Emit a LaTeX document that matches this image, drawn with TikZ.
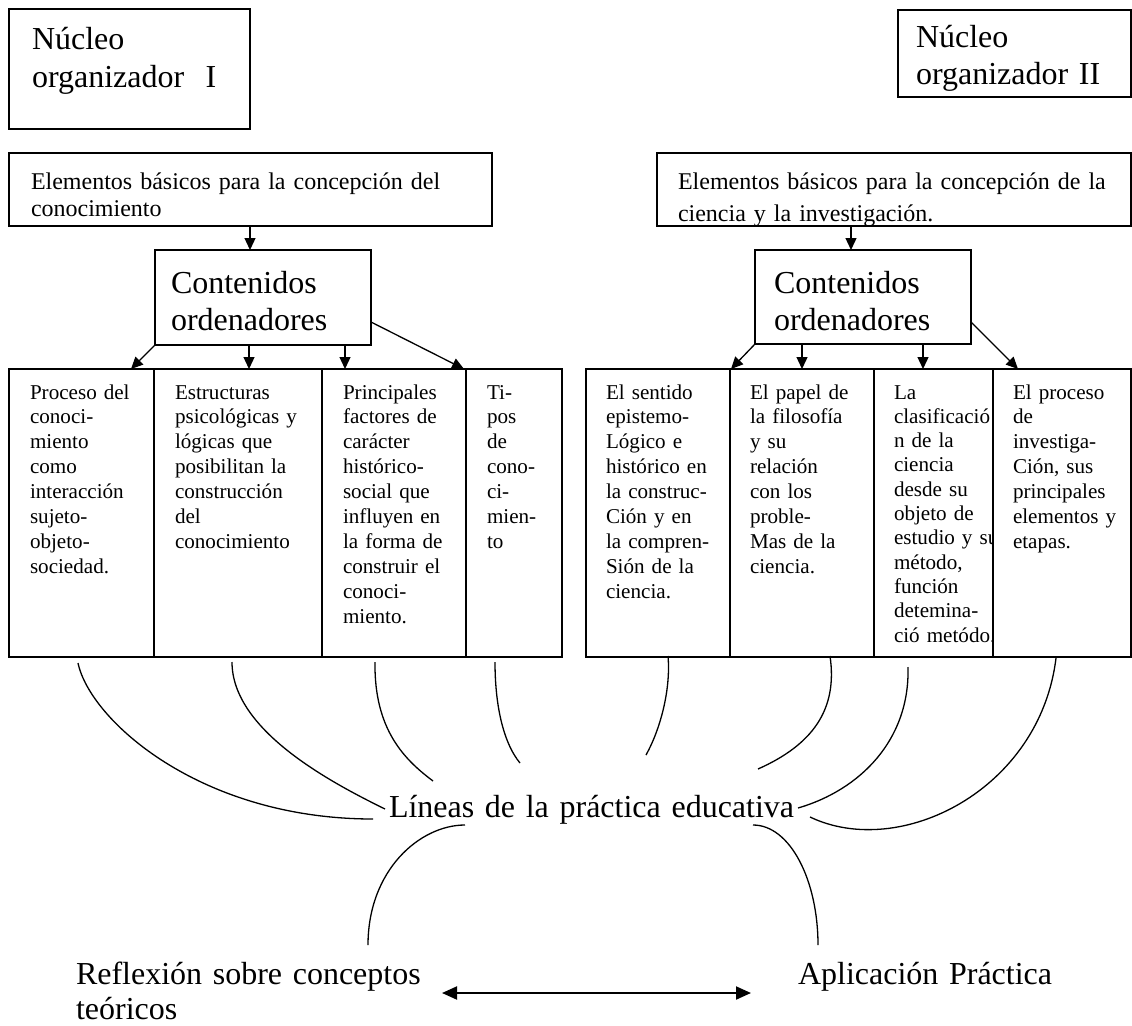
\documentclass[tikz,border=0pt]{standalone}
\usepackage{fontspec}
\setmainfont{Liberation Serif}
\usetikzlibrary{arrows.meta}
\newcommand{\fs}[2]{\fontsize{#1}{#2}\selectfont}
\begin{document}
\begin{tikzpicture}[x=1pt,y=-1pt,
 box/.style={draw, line width=1.6pt, fill=white, inner sep=0pt, outer sep=0pt, anchor=north west},
 txt/.style={anchor=base west, inner sep=0pt, outer sep=0pt, text width=700pt, align=left},
 big/.style={font=\fs{32}{37}},
 mid/.style={font=\fs{24}{27}},
 small/.style={font=\fs{21.1}{24.9}},
 arr/.style={line width=1.3pt, -{Triangle[length=12pt,width=11pt]}},
 crv/.style={line width=1.3pt},
 dbl/.style={line width=2pt, {Triangle[length=15pt,width=13pt]}-{Triangle[length=15pt,width=13pt]}}]
\useasboundingbox[fill=white] (0,0) rectangle (1132,1025);

% Nucleo boxes
\node[box, minimum width=241pt, minimum height=120pt] (n1) at (9,9) {};
\node[txt, big] (n1t) at (32,50) {Núcleo\\organizador\ \ I};
\node[box, minimum width=233pt, minimum height=87pt] (n2) at (898,10) {};
\node[txt, big] (n2t) at (916,48) {Núcleo\\organizador II};

% Elementos boxes
\node[box, minimum width=483pt, minimum height=73pt] (e1) at (9,153) {};
\node[txt, mid] (e1t) at (31,189) {Elementos básicos para la concepción del\\conocimiento};
\node[box, minimum width=474pt, minimum height=73pt] (e2) at (657,153) {};
\begin{scope}
\clip (658,154) rectangle (1130,225);
\node[txt, font=\fs{24}{32}] (e2t) at (678,189) {Elementos básicos para la concepción de la\\ciencia y la investigación.};
\end{scope}

% Contenidos boxes
\node[box, minimum width=216pt, minimum height=95pt] (c1) at (155,250) {};
\node[txt, big] (c1t) at (171,293) {Contenidos\\ordenadores};
\node[box, minimum width=216pt, minimum height=94pt] (c2) at (755,250) {};
\node[txt, big] (c2t) at (774,293) {Contenidos\\ordenadores};

% left row
\node[box, minimum width=145pt, minimum height=288pt] (l1) at (9,369) {};
\node[txt, small] (l1t) at (30,399) {Proceso del\\conoci-\\miento\\como\\interacción\\sujeto-\\objeto-\\sociedad.};
\node[box, minimum width=168pt, minimum height=288pt] (l2) at (154,369) {};
\node[txt, small] (l2t) at (175,399) {Estructuras\\psicológicas y\\lógicas que\\posibilitan la\\construcción\\del\\conocimiento};
\node[box, minimum width=144pt, minimum height=288pt] (l3) at (322,369) {};
\node[txt, small] (l3t) at (343,399) {Principales\\factores de\\carácter\\histórico-\\social que\\influyen en\\la forma de\\construir el\\conoci-\\miento.};
\node[box, minimum width=96pt, minimum height=288pt] (l4) at (466,369) {};
\node[txt, small] (l4t) at (487,399) {Ti-\\pos\\de\\cono-\\ci-\\mien-\\to};

% right row
\node[box, minimum width=144pt, minimum height=288pt] (r1) at (586,369) {};
\node[txt, small] (r1t) at (606,399) {El sentido\\epistemo-\\Lógico e\\histórico en\\la construc-\\Ción y en\\la compren-\\Sión de la\\ciencia.};
\node[box, minimum width=144pt, minimum height=288pt] (r2) at (730,369) {};
\node[txt, small] (r2t) at (750,399) {El papel de\\la filosofía\\y su\\relación\\con los\\proble-\\Mas de la\\ciencia.};
\node[box, minimum width=119pt, minimum height=288pt] (r3) at (874,369) {};
\node[txt, small, font=\fs{21.1}{24.3}] (r3t) at (894,399) {La\\clasificació\\n de la\\ciencia\\desde su\\objeto de\\estudio y su\\método,\\función\\detemina-\\ció metódo.};
\node[box, minimum width=138pt, minimum height=288pt] (r4) at (993,369) {};
\node[txt, small] (r4t) at (1013,399) {El proceso\\de\\investiga-\\Ción, sus\\principales\\elementos y\\etapas.};

% arrows top
\coordinate (ea1) at (250,250);
\coordinate (ea2) at (851,250);
\draw[arr] (e1.south -| ea1) -- (ea1);
\draw[arr] (e2.south -| ea2) -- (ea2);

\coordinate (t1) at (131,369);
\coordinate (t2) at (249,369);
\coordinate (t3) at (345,369);
\coordinate (t4) at (464,369);
\draw[arr] (c1.south west) -- (t1);
\draw[arr] (c1.south -| t2) -- (t2);
\draw[arr] (c1.south -| t3) -- (t3);
\draw[arr] ([yshift=23pt]c1.south east) -- (t4);

\coordinate (u1) at (731,369);
\coordinate (u2) at (802,369);
\coordinate (u3) at (923,369);
\coordinate (u4) at (1018,369);
\draw[arr] (c2.south west) -- (u1);
\draw[arr] (c2.south -| u2) -- (u2);
\draw[arr] (c2.south -| u3) -- (u3);
\draw[arr] ([yshift=22pt]c2.south east) -- (u4);

% label
\node[txt, big] (lab) at (389,817) {Líneas de la práctica educativa};

% curves
\coordinate (s1) at (78,663);   \coordinate (f1) at (373,819);
\coordinate (s2) at (232,662);  \coordinate (f2) at (385,809);
\coordinate (s3) at (375,662);  \coordinate (f3) at (433,781);
\coordinate (s4) at (495,662);  \coordinate (f4) at (520,763);
\coordinate (s5) at (668,656);  \coordinate (f5) at (646,755);
\coordinate (s6) at (830,656);  \coordinate (f6) at (758,769);
\coordinate (s7) at (908,667);  \coordinate (f7) at (798,808);
\coordinate (s8) at (1056,658); \coordinate (f8) at (810,817);
\draw[crv] (s1) .. controls (90,720) and (200,819) .. (f1);
\draw[crv] (s2) .. controls (232,730) and (330,782) .. (f2);
\draw[crv] (s3) .. controls (374,730) and (405,760) .. (f3);
\draw[crv] (s4) .. controls (495,710) and (505,745) .. (f4);
\draw[crv] (s5) .. controls (671,690) and (660,730) .. (f5);
\draw[crv] (s6) .. controls (838,710) and (812,745) .. (f6);
\draw[crv] (s7) .. controls (910,740) and (860,790) .. (f7);
\draw[crv] (s8) .. controls (1040,790) and (900,860) .. (f8);

\coordinate (g1) at (465,825); \coordinate (h1) at (368,945);
\coordinate (g2) at (753,825); \coordinate (h2) at (818,945);
\draw[crv] (g1) .. controls (420,825) and (368,870) .. (h1);
\draw[crv] (g2) .. controls (790,825) and (818,880) .. (h2);

% bottom
\node[txt, font=\fs{32}{35}] (refl) at (76,984) {Reflexión sobre conceptos\\teóricos};
\node[txt, big] (apl) at (798,984) {Aplicación Práctica};
\coordinate (da1) at (442,993);
\coordinate (da2) at (751,993);
\draw[dbl] (da1) -- (da2);
\end{tikzpicture}
\end{document}
